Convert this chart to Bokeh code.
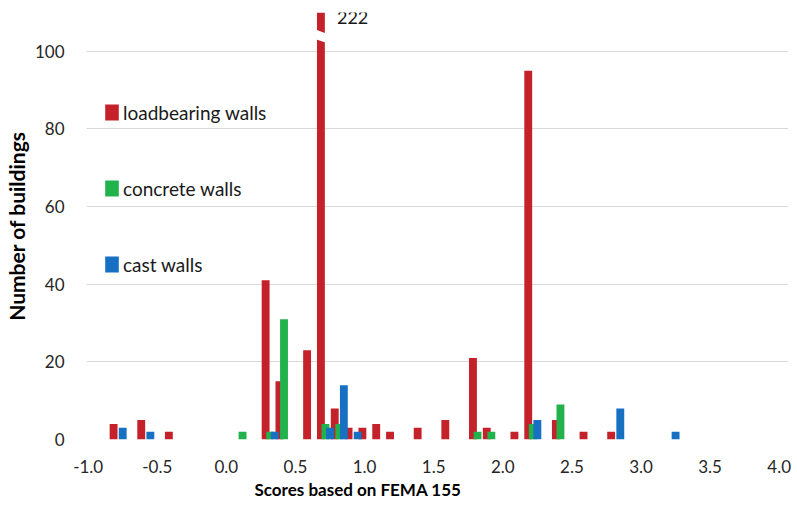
import numpy as np
from bokeh.plotting import figure
from bokeh.models import (ColumnDataSource, FixedTicker, NumeralTickFormatter, Legend,
                          LegendItem, Title, Label, Range1d)
from bokeh.transform import dodge
from bokeh.embed import file_html
from bokeh.resources import INLINE

# ---- data ----
series_names = ["loadbearing walls", "concrete walls", "cast walls"]
load_scores = [-0.8, -0.6, -0.4, 0.3, 0.4, 0.6, 0.7, 0.8, 0.9, 1.0, 1.1, 1.2, 1.4, 1.6, 1.8, 1.9, 2.1, 2.2, 2.4, 2.6, 2.8]
load_counts = [4, 5, 2, 41, 15, 23, 222, 8, 3, 3, 4, 2, 3, 5, 21, 3, 2, 95, 5, 2, 2]
conc_scores = [0.1, 0.3, 0.4, 0.7, 0.8, 1.8, 1.9, 2.2, 2.4]
conc_counts = [2, 2, 31, 4, 4, 2, 2, 4, 9]
cast_scores = [-0.8, -0.6, 0.3, 0.7, 0.8, 0.9, 2.2, 2.8, 3.2]
cast_counts = [3, 2, 2, 3, 14, 2, 5, 8, 2]
x_ticks = [-1.0, -0.5, 0.0, 0.5, 1.0, 1.5, 2.0, 2.5, 3.0, 3.5, 4.0]
y_ticks = [0, 20, 40, 60, 80, 100]

colors = ["#C4212B", "#22B24C", "#1770C2"]
offsets = [-0.016, 0.017, 0.05]
bar_w = 0.057
FONT = "Lato"

p = figure(width=795, height=500, x_range=Range1d(-1.012, 4.067), y_range=Range1d(0, 110),
           output_backend="svg", toolbar_location=None, title=None,
           min_border_left=82, min_border_right=7, min_border_top=12, min_border_bottom=60)
p.outline_line_color = None
p.background_fill_color = "white"

renderers = []
for scores, counts, col, off in zip([load_scores, conc_scores, cast_scores],
                                    [load_counts, conc_counts, cast_counts], colors, offsets):
    src = ColumnDataSource(dict(x=scores, top=counts))
    r = p.vbar(x=dodge("x", off, range=p.x_range), top="top", width=bar_w, source=src,
               fill_color=col, line_color=None)
    renderers.append(r)

# axis break on the tallest (off-scale) bar
imax = int(np.argmax(load_counts))
bx = load_scores[imax] + offsets[0]
hw = bar_w / 2 + 0.01
p.patch(x=[bx - hw, bx + hw, bx + hw, bx - hw], y=[105.6, 104.6, 102.2, 103.1],
        fill_color="white", line_color=None)
p.add_layout(Label(x=load_scores[imax] + 0.1, y=108.7, text=str(load_counts[imax]),
                   text_font=FONT, text_font_size="18px", text_baseline="middle",
                   text_align="left", text_color="#1a1a1a"))

# legend
legend = Legend(items=[LegendItem(label=n, renderers=[r]) for n, r in zip(series_names, renderers)],
                location=(17, 163), glyph_width=17, glyph_height=20, label_height=24,
                spacing=52, padding=0, margin=0, border_line_color=None,
                background_fill_alpha=0, label_text_font=FONT, label_text_font_size="19px",
                label_standoff=3, label_text_color="#1a1a1a")
p.add_layout(legend)

# axes
for ax in (p.xaxis, p.yaxis):
    ax.axis_line_color = None
    ax.major_tick_line_color = None
    ax.minor_tick_line_color = None
    ax.major_tick_out = 0
    ax.major_tick_in = 0
    ax.major_label_text_font = FONT
    ax.major_label_text_font_size = "17px"
    ax.major_label_text_color = "#262626"

p.xaxis.ticker = FixedTicker(ticks=x_ticks)
p.xaxis.formatter = NumeralTickFormatter(format="0.0")
p.xaxis.major_label_standoff = 20

p.yaxis.ticker = FixedTicker(ticks=y_ticks)
p.yaxis.major_label_standoff = 22
p.yaxis.axis_label = "Number of buildings"
p.yaxis.axis_label_text_font = FONT
p.yaxis.axis_label_text_font_style = "bold"
p.yaxis.axis_label_text_font_size = "21px"
p.yaxis.axis_label_text_color = "black"
p.yaxis.axis_label_standoff = 3

p.xgrid.grid_line_color = None
p.ygrid.ticker = FixedTicker(ticks=y_ticks)
p.ygrid.grid_line_color = "#D9D9D9"
p.ygrid.grid_line_width = 1

p.add_layout(Title(text="Scores based on FEMA 155", align="left", offset=168,
                   text_font=FONT, text_font_style="bold", text_font_size="17px",
                   text_color="black", standoff=2), "below")

open("out.html", "w").write(file_html(p, INLINE))
